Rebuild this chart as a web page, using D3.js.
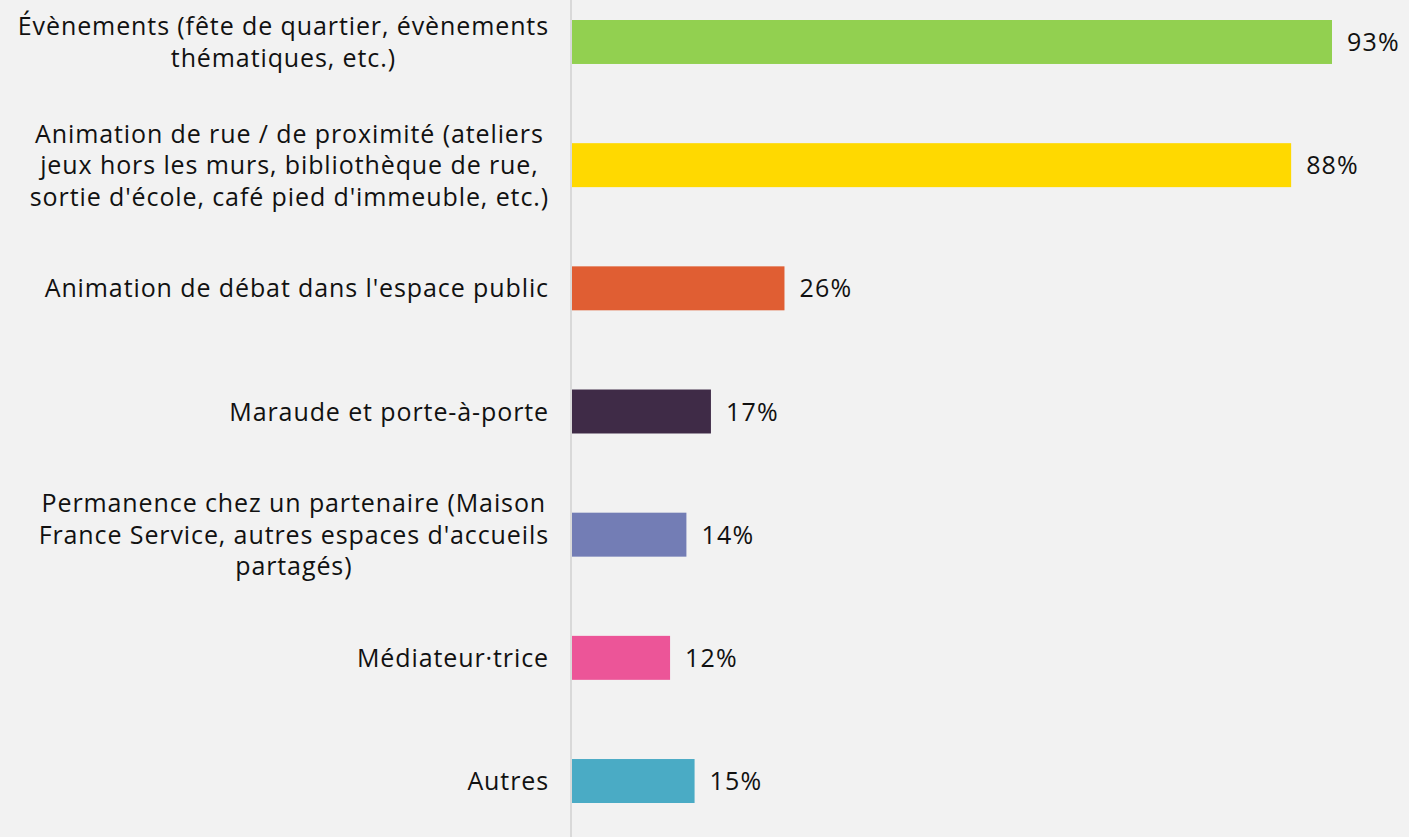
<!DOCTYPE html>
<html>
<head>
<meta charset="utf-8">
<script src="https://cdn.jsdelivr.net/npm/d3@7"></script>
<style>
  html, body { margin: 0; padding: 0; background: #f2f2f2; }
  svg { display: block; font-family: "Open Sans", Lato, sans-serif; font-variant-ligatures: none; }
</style>
</head>
<body>
<script>
// categories, one entry per bar, lines as they wrap in the original
var categories = [
  ["Évènements (fête de quartier, évènements", "thématiques, etc.)"],
  ["Animation de rue / de proximité (ateliers", "jeux hors les murs, bibliothèque de rue,", "sortie d'école, café pied d'immeuble, etc.)"],
  ["Animation de débat dans l'espace public"],
  ["Maraude et porte-à-porte"],
  ["Permanence chez un partenaire (Maison", "France Service, autres espaces d'accueils", "partagés)"],
  ["Médiateur·trice"],
  ["Autres"]
];
var values = [93, 88, 26, 17, 14, 12, 15];
var colors = ["#92d050", "#ffd900", "#e05e33", "#3f2b47", "#737db5", "#ec5598", "#4aabc5"];

var width = 1409,
    height = 837;

var svg = d3.select("body")
            .append("svg")
            .attr("width", width)
            .attr("height", height);

svg.append("rect")
   .attr("width", width)
   .attr("height", height)
   .attr("fill", "#f2f2f2");

var y = d3.scaleBand()
          .domain(d3.range(values.length))
          .range([-19.6, 842.6])
          .paddingInner(0.643)
          .paddingOuter(0.3215);

var x = d3.scaleLinear()
          .domain([0, 100])
          .range([572, 572 + 817.2]);

// vertical axis line
svg.append("line")
   .attr("x1", 571).attr("x2", 571)
   .attr("y1", 0).attr("y2", height)
   .style("stroke", "#d9d9d9")
   .style("stroke-width", 2);

var rows = svg.selectAll("g.row")
              .data(values)
            .enter().append("g")
              .attr("class", "row");

rows.append("rect")
    .attr("x", x(0))
    .attr("y", function(d, i) { return y(i); })
    .attr("width", function(d) { return x(d) - x(0); })
    .attr("height", y.bandwidth())
    .style("fill", function(d, i) { return colors[i]; });

// value labels
rows.append("text")
    .attr("x", function(d) { return x(d) + 15; })
    .attr("y", function(d, i) { return y(i) + y.bandwidth() / 2; })
    .attr("dy", "0.36em")
    .style("font-size", "25px")
    .style("letter-spacing", "1.2px")
    .style("fill", "#111")
    .text(function(d) { return d + "%"; });

// category labels, centred lines, right edge at 548
var lineH = 31.5;
rows.append("text")
    .attr("y", function(d, i) { return y(i) + y.bandwidth() / 2; })
    .style("font-size", "25px")
    .style("letter-spacing", "0.9px")
    .style("fill", "#111")
    .each(function(d, i) {
      var lines = categories[i];
      var t = d3.select(this);
      lines.forEach(function(l, j) {
        t.append("tspan")
         .attr("y", y(i) + y.bandwidth() / 2 + (j - (lines.length - 1) / 2) * lineH)
         .attr("dy", "0.36em")
         .text(l);
      });
      // measure the widest line and centre every line on it
      var w = d3.max(t.selectAll("tspan").nodes(), function(n) { return n.getComputedTextLength(); });
      var cx = 549 - w / 2;
      t.selectAll("tspan").attr("x", cx).attr("text-anchor", "middle");
    });
</script>
</body>
</html>
